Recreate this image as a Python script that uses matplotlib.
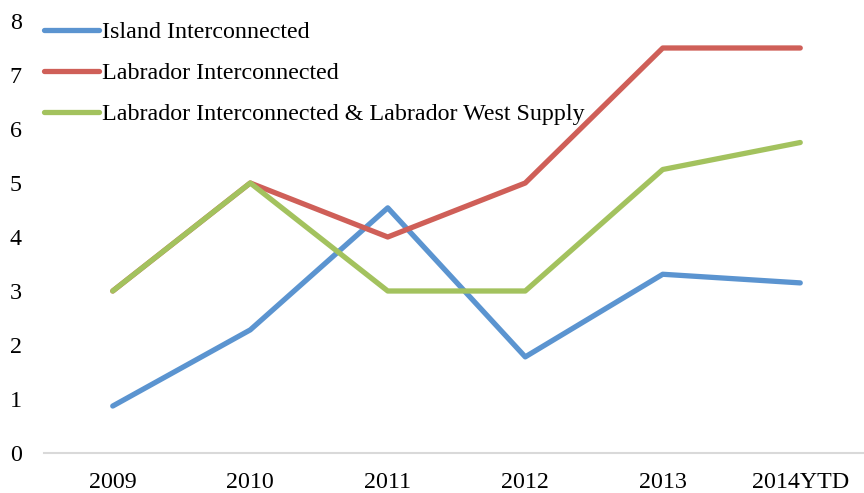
import matplotlib
matplotlib.use("Agg")
from matplotlib import pyplot as plt

years = ["2009", "2010", "2011", "2012", "2013", "2014YTD"]
island = [0.87, 2.28, 4.54, 1.78, 3.31, 3.15]
labrador = [3, 5, 4, 5, 7.5, 7.5]
labrador_west = [3, 5, 3, 3, 5.25, 5.75]

names = ["Island Interconnected", "Labrador Interconnected",
         "Labrador Interconnected & Labrador West Supply"]
colors = ["#5B94D0", "#CF5F58", "#A3C25E"]

plt.rcParams['font.family'] = ['Liberation Serif', 'DejaVu Serif']

fig = plt.figure(figsize=(8.64, 4.93), dpi=100)
ax = fig.add_axes([44 / 864, 40 / 493, 825 / 864, 432 / 493])

x = list(range(len(years)))
for ys, name, c in zip([island, labrador, labrador_west], names, colors):
    ax.plot(x, ys, color=c, lw=3.8, label=name,
            solid_capstyle='round', solid_joinstyle='round')

ax.set_xlim(-0.5, 5.5)
ax.set_ylim(0, 8)
ax.set_xticks(x)
ax.set_xticklabels(years)
ax.set_yticks(range(9))

for s in ['top', 'right', 'left']:
    ax.spines[s].set_visible(False)
ax.spines['bottom'].set_color('#d9d9d9')
ax.spines['bottom'].set_linewidth(1.5)
ax.spines['bottom'].set_zorder(0)
ax.tick_params(axis='both', length=0, labelsize=17.3, colors='black')
ax.tick_params(axis='y', pad=16)
ax.tick_params(axis='x', pad=14)

leg = ax.legend(loc='upper left', bbox_to_anchor=(0.0, 0.999), frameon=False,
                fontsize=17.3, handlelength=2.3, handletextpad=0.12,
                labelspacing=0.8, borderaxespad=0, borderpad=0)
for ln in leg.get_lines():
    ln.set_linewidth(3.8)

fig.savefig("out.png", dpi=100)
